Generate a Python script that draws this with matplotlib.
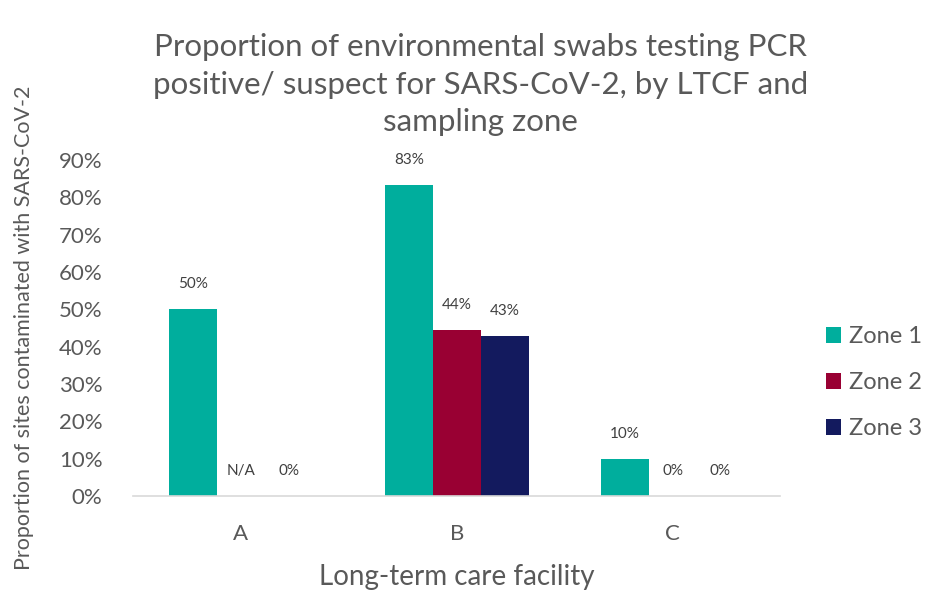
import matplotlib
matplotlib.use("Agg")
import matplotlib.pyplot as plt
import numpy as np
from matplotlib.ticker import FuncFormatter

plt.rcParams['font.family'] = ['Lato', 'DejaVu Sans']

categories = ["A", "B", "C"]
series_names = ["Zone 1", "Zone 2", "Zone 3"]
zone1 = [0.50, 0.8333, 0.10]
zone2 = [0.0, 0.444, 0.0]
zone3 = [0.0, 0.429, 0.0]
zone1_labels = ["50%", "83%", "10%"]
zone2_labels = ["N/A", "44%", "0%"]
zone3_labels = ["0%", "43%", "0%"]
colors = ["#00AE9D", "#990033", "#131A5E"]

fig = plt.figure(figsize=(9.28, 5.98), dpi=100)
ax = fig.add_axes([0.1433, 0.1706, 0.6977, 0.5618])

x = np.arange(len(categories))
w = 1 / 4.5
gray = "#595959"
for i, (vals, labs, name, c) in enumerate(zip([zone1, zone2, zone3],
                                              [zone1_labels, zone2_labels, zone3_labels],
                                              series_names, colors)):
    pos = x + (i - 1) * w
    ax.bar(pos, vals, width=w, color=c, label=name)
    for p, v, l in zip(pos, vals, labs):
        ax.annotate(l, (p, v), xytext=(0, 13), textcoords="offset points",
                    ha="center", va="bottom", fontsize=11, color="#404040")

ax.set_xlim(-0.5, 2.5)
ax.set_ylim(0, 0.9)
ax.set_yticks(np.arange(0, 0.91, 0.1))
ax.yaxis.set_major_formatter(FuncFormatter(lambda v, _: f"{v*100:.0f}%"))
ax.set_xticks(x)
ax.set_xticklabels(categories)
for s in ["top", "right", "left"]:
    ax.spines[s].set_visible(False)
ax.spines["bottom"].set_color("#D9D9D9")
ax.spines["bottom"].set_linewidth(1.2)
ax.tick_params(axis="y", length=0, labelsize=16, labelcolor=gray, pad=22)
ax.tick_params(axis="x", length=0, labelsize=16, labelcolor=gray, pad=20)

fig.text(0.492, 1 - 577 / 598, "Long-term care facility", fontsize=20, color=gray,
         ha="center", va="center")
ax.set_ylabel("Proportion of sites contaminated with SARS-CoV-2", fontsize=15.5, color=gray, labelpad=18)
fig.text(0.518, 0.945, "Proportion of environmental swabs testing PCR\npositive/ suspect for SARS-CoV-2, by LTCF and\nsampling zone",
         ha="center", va="top", fontsize=22.5, color=gray, linespacing=1.42)

leg = fig.legend(loc="center left", bbox_to_anchor=(0.867, 0.36), frameon=False,
                 fontsize=17, labelcolor=gray, handlelength=0.65, handleheight=0.65,
                 handletextpad=0.35, labelspacing=1.05)

fig.savefig("out.png", dpi=100)
